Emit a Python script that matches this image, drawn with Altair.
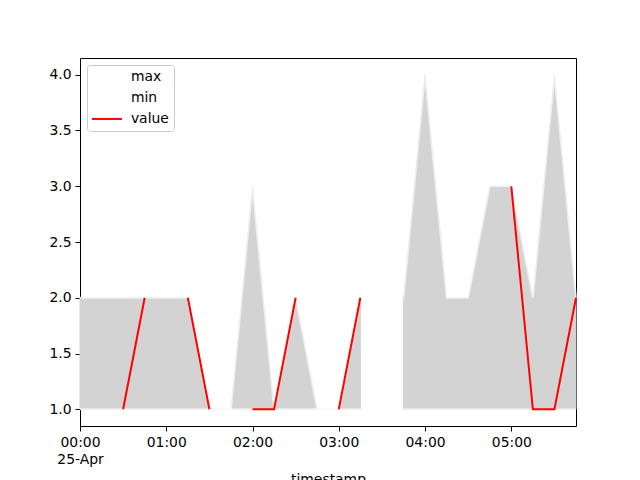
import altair as alt
import pandas as pd

times = [
    "2023-04-25T00:00:00Z", "2023-04-25T00:15:00Z", "2023-04-25T00:30:00Z", "2023-04-25T00:45:00Z",
    "2023-04-25T01:00:00Z", "2023-04-25T01:15:00Z", "2023-04-25T01:30:00Z", "2023-04-25T01:45:00Z",
    "2023-04-25T02:00:00Z", "2023-04-25T02:15:00Z", "2023-04-25T02:30:00Z", "2023-04-25T02:45:00Z",
    "2023-04-25T03:00:00Z", "2023-04-25T03:15:00Z", "2023-04-25T03:30:00Z", "2023-04-25T03:45:00Z",
    "2023-04-25T04:00:00Z", "2023-04-25T04:15:00Z", "2023-04-25T04:30:00Z", "2023-04-25T04:45:00Z",
    "2023-04-25T05:00:00Z", "2023-04-25T05:15:00Z", "2023-04-25T05:30:00Z", "2023-04-25T05:45:00Z",
]
max_vals = [2, 2, 2, 2, 2, 2, 1, 1, 3, 1, 2, 1, 1, 2, None, 2, 4, 2, 2, 3, 3, 2, 4, 2]
min_vals = [1, 1, 1, 1, 1, 1, 1, 1, 1, 1, 1, 1, 1, 1, None, 1, 1, 1, 1, 1, 1, 1, 1, 1]
value_vals = [None, None, 1, 2, None, 2, 1, None, 1, 1, 2, None, 1, 2, None, None,
              None, None, None, None, 3, 1, 1, 2]

series_names = ["max", "min", "value"]
series_colors = ["white", "white", "red"]
y_ticks = [1.0, 1.5, 2.0, 2.5, 3.0, 3.5, 4.0]
x_tick_hours = [0, 1, 2, 3, 4, 5]

df = pd.DataFrame({"timestamp": times, "max": max_vals, "min": min_vals, "value": value_vals})

FONT = "DejaVu Sans"
FS = 13.9

xscale = alt.Scale(
    type="utc",
    domain=[alt.DateTime(year=2023, month=4, date=25, hours=0, minutes=0, utc=True),
            alt.DateTime(year=2023, month=4, date=25, hours=5, minutes=45, utc=True)],
    nice=False,
)
xaxis = alt.Axis(
    values=[alt.DateTime(year=2023, month=4, date=25, hours=h, utc=True) for h in x_tick_hours],
    labelExpr="utchours(datum.value) == 0 ? [utcFormat(datum.value, '%H:%M'), utcFormat(datum.value, '%d-%b')] : utcFormat(datum.value, '%H:%M')",
    title="timestamp",
    grid=False,
    domain=False,
    tickColor="black",
    tickSize=5,
    tickWidth=1,
    labelPadding=4,
    labelColor="black",
    labelFont=FONT,
    labelFontSize=FS,
    labelLineHeight=17,
    labelBaseline="top",
    labelFlush=False,
    labelOverlap=False,
    titleFont=FONT,
    titleFontSize=FS,
    titleFontWeight="normal",
    titleColor="black",
    titlePadding=7,
)
yscale = alt.Scale(domain=[0.85, 4.15], nice=False, zero=False)
yaxis = alt.Axis(
    values=y_ticks,
    format=".1f",
    title=None,
    grid=False,
    domain=False,
    tickColor="black",
    tickSize=5,
    tickWidth=1,
    labelPadding=4,
    labelColor="black",
    labelFont=FONT,
    labelFontSize=FS,
)

base = alt.Chart(df)

area = base.mark_area(
    color="#d3d3d3", stroke="#d3d3d3", strokeWidth=1, invalid="break-paths-show-domains"
).encode(
    x=alt.X("timestamp:T", scale=xscale, axis=xaxis),
    y=alt.Y("min:Q", scale=yscale, axis=yaxis),
    y2="max:Q",
)

lines = base.transform_fold(series_names, as_=["series", "v"]).mark_line(
    strokeWidth=2, invalid="break-paths-show-domains"
).encode(
    x=alt.X("timestamp:T", scale=xscale),
    y=alt.Y("v:Q", scale=yscale),
    color=alt.Color(
        "series:N",
        scale=alt.Scale(domain=series_names, range=series_colors),
        legend=alt.Legend(
            title=None,
            orient="top-left",
            offset=7,
            padding=5,
            strokeColor="#cccccc",
            fillColor="white",
            cornerRadius=3,
            symbolType="M-1.4,0H4.6",
            symbolSize=100,
            symbolStrokeWidth=2,
            labelFont=FONT,
            labelFontSize=FS,
            labelColor="black",
            labelOffset=25,
            rowPadding=6,
        ),
    ),
    opacity=alt.condition(alt.datum.series == "value", alt.value(1), alt.value(0.6)),
)

chart = alt.layer(area, lines).properties(
    width=496,
    height=368,
    autosize=alt.AutoSizeParams(type="none"),
    padding={"left": 72, "top": 50, "right": 56, "bottom": 60},
).configure(font=FONT).configure_view(stroke="black", strokeWidth=1)

chart.save("out.html", embed_options={"renderer": "svg", "actions": False})
